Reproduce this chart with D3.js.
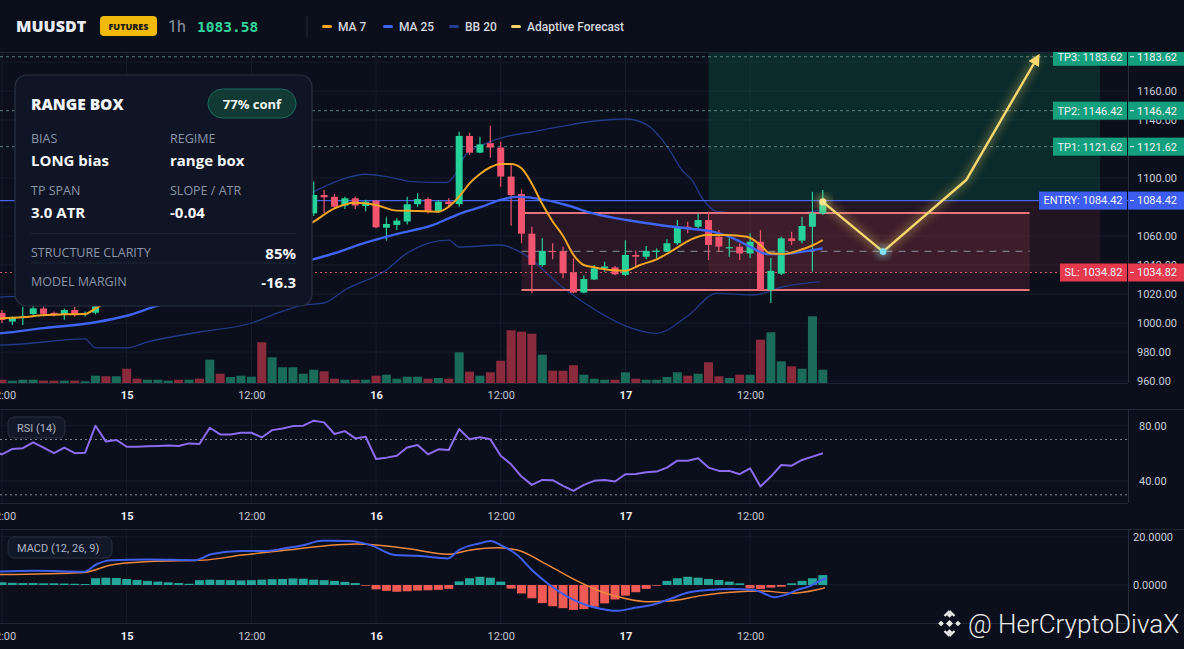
<!DOCTYPE html>
<html>
<head>
<meta charset="utf-8">
<script src="https://cdn.jsdelivr.net/npm/d3@7/dist/d3.min.js"></script>
<style>
html,body{margin:0;padding:0;background:#0a0f1b;overflow:hidden;}
svg{display:block;}
</style>
</head>
<body>
<svg id="chart" width="1184" height="649" font-family="Roboto, 'Noto Sans', sans-serif"></svg>
<script>
// ================= DATA =================
const symbol = "MUUSDT";
const interval = "1h";
const lastPrice = 1083.58;

// hourly candles, index 0 = 14th 12:00
const opens = [1007.0,1001.0,1004.0,1006.2,1010.0,1007.0,1005.6,1009.0,1006.0,1007.1,
1030,1024,1029,1017,1015,1019,1022,1024,1021,1024.5,
1022,1048,1042,1045,1047,1049,1043,1058,1064,1068,
1075.6,1088.3,1087,1081,1086,1080.7,1084.4,1065.7,1067.6,1070,
1081.9,1085.5,1076.8,1083.7,1082,1129,1117.5,1124,1121,1101,
1089,1061.6,1040,1049.7,1049.5,1034.9,1021,1030,1037.7,1038.4,
1033.2,1046.9,1045.7,1049.5,1049.3,1055,1066.4,1066.4,1071,1059.5,
1052,1052.6,1048,1056,1022.8,1034,1058.4,1056.8,1066.4,1075.6];
const highs = [1009,1004.5,1011.2,1011.7,1011.3,1008,1009.9,1011.2,1008,1033,
1033,1031,1031,1020,1021,1024,1026,1025,1026,1026,
1050,1050,1047,1049,1051,1056,1060,1066,1070,1077,
1097.4,1091.7,1089,1087,1087,1085,1084.8,1072.9,1072.2,1087,
1089.4,1086.7,1084.8,1086,1131.9,1131,1128.5,1136,1125,1110,
1092,1066.4,1058.4,1055,1052.6,1044.6,1033,1040,1042.3,1039.3,
1057,1050,1053.1,1051.5,1057.7,1071,1069.9,1075.6,1076.8,1064.1,
1058.4,1055,1061.9,1064,1044.8,1059.5,1063,1073.3,1090.5,1091.7];
const lows = [1000,998.6,998.6,1005.5,1004.4,1004.5,1002.3,1004.4,1004.4,1006,
1021,1022,1014,1013,1014,1017,1020,1019,1020,1020,
1021,1040,1040,1043,1045,1036,1041,1055,1062,1066,
1073.8,1075.9,1079,1078.6,1078.6,1077,1065.3,1056.8,1064.1,1068,
1080.2,1075.6,1075.9,1080.2,1080.2,1115.9,1117,1114,1094,1067,
1055,1020.5,1038.8,1044,1030.8,1020.5,1020.5,1029.7,1035.4,1033,
1032.5,1039,1043.9,1044.6,1049.2,1053.8,1061.9,1065.3,1043.4,1049.2,
1045.7,1043.4,1044.6,1022.8,1013.8,1033.1,1053.8,1055,1035.4,1074.5];
const closes = [1002.1,1003.7,1004.5,1010.1,1006.3,1005.6,1008.9,1005.6,1006.8,1030,
1024,1029,1017,1015,1019,1022,1024,1021,1024.5,1022,
1048,1042,1045,1047,1049,1043,1058,1064,1068,1075.6,
1088.3,1086.7,1080.2,1086,1081,1083.7,1066,1068.3,1070.6,1081.9,
1085.5,1076.8,1083.7,1082,1129,1117.5,1123.2,1121,1101,1088.3,
1061.6,1040,1049.7,1049.2,1034.3,1021,1030.3,1037.7,1039,1033.6,
1046.9,1045.7,1049.7,1049.9,1055,1066.4,1065.3,1071,1053.8,1052.7,
1052.3,1048,1056,1022.8,1036,1058.4,1056.5,1066.9,1075.6,1083.58];
const volumes = [33,23,33,33,23,23,23,23,17,73, 67,67,143,43,33,33,23,33,33,43,
233,93,60,73,63,407,257,157,157,93, 133,117,43,33,33,33,73,83,43,63,
63,43,50,43,307,113,73,107,223,527, 513,493,283,123,123,177,83,43,33,33,
107,43,33,33,60,107,73,93,207,67, 50,83,83,433,507,217,167,143,667,133];

// overlays: [hour index, price]
const ma7Points = [[-1,1002.5],[0,1003.2],[2,1004],[4,1005.5],[6,1006],[8,1006.2],[9,1010],[10,1014],[12,1020],[15,1019],[18,1022],[21,1031],[24,1045],[27,1057],
[30,1069.9],[32,1079.1],[34,1083],[36,1081.4],[38,1077.5],[40,1077.3],[42,1076.8],[43,1080.2],[44,1087.1],[45,1096.3],[46,1102.8],[47,1107.4],[48,1109.7],[49,1109.7],[50,1106.7],
[51,1096],[52,1082],[53,1070],[54,1060],[55,1047],[56,1040],[57,1038.4],[58.5,1036.6],[60,1036.1],[61.4,1040],[63,1043.9],[64.6,1050.3],[66.2,1057.2],[67.8,1060.7],[69.7,1060.7],[71.7,1059.5],
[73,1053.8],[73.9,1048.1],[75.2,1047.6],[76.8,1050.3],[78.1,1053.8],[79,1057.2]];
const ma25Points = [[-1,992.4],[0,993],[4,996.5],[9,1000.5],[12,1005],[15,1012],[18,1017],[22,1026],[26,1036],[30,1044],[32,1048.1],[35,1055.4],[38,1061.4],[41.5,1067.6],[43,1072.2],[44.6,1076.8],
[46.2,1080.2],[47.9,1084.8],[49.7,1087],[52,1085.3],[54.3,1081.4],[56.9,1075.6],[60.1,1071],[63.3,1067.6],[65.9,1065.3],[68.4,1063],[70.4,1058.4],[72.3,1051.5],[73.6,1047.6],[75.2,1047.6],[77.1,1049.2],[79,1051.5]];
const bbUpperPoints = [[-1,1017],[0,1018],[5,1019],[9,1022],[14,1045],[20,1060],[26,1075],[30,1090.6],[33,1099.8],[35,1102.6],[37,1101],[39.5,1097.5],[42.8,1096.9],[43.8,1104.4],[44.6,1115.9],
[46.6,1123.9],[48.5,1128.5],[51.1,1131.9],[53.7,1135.4],[57,1139.3],[60,1140.7],[62,1137],[64,1122],[65.5,1105],[66.4,1098.6],[67.5,1085],[68.8,1077],[72,1075.5],[76,1075.5],[79,1078]];
const bbLowerPoints = [[-1,985.5],[0,984.8],[8,989],[9,982.8],[12,982.8],[14,986.9],[19,993.8],[24,1000],[26,1005.5],[29,1012.4],[31,1013.8],[33,1022.8],[37,1036.6],[39,1048.3],[43,1057.2],[44,1052.4],
[48,1053.8],[49.8,1049.2],[54.3,1022.8],[57.6,1006.9],[60,998],[63,992.9],[65.9,1004.3],[68.8,1020.5],[72.3,1019.3],[75.2,1025],[78.7,1028.5]];

// RSI(14), first value at hour -1
const rsiValues = [62,59.3,63.2,63.7,68,64.2,60.1,64.2,60.1,60.5,80,68.5,69.7,64.8,64.8,65.1,65.4,65.6,65.3,67.2,66.7,
78.5,73.7,73.7,74.9,74.9,71.5,76.8,78,79.7,80,83.6,82.4,74,76.1,70.8,72,55.9,56.9,58.3,64.3,66,59.3,62.9,62.4,
77.6,70.2,71.6,70.2,58.3,52.1,43.2,37.2,40.8,40.6,36.5,32.9,37.2,40.1,40.8,39.6,44.9,45.1,46.3,46.8,49.7,54.7,
54.7,56.4,49.7,47.3,47.3,44.9,49.2,36,43.2,51.6,51.1,55.2,57.6,60.1];
// MACD (12,26,9): [hour, value]
const macdPoints = [[-1,5.4],[3.2,5.9],[7.9,5.5],[9.1,8.6],[10.5,10.3],[14.2,10.6],[18.6,10.3],[20.1,12.7],[23.1,14.1],[25.3,14.1],[27.5,15.4],[29,16.5],[30.8,18.3],[33.4,18.2],[35.6,16.3],
[37.8,12.4],[40,12.1],[42.9,11],[44,14.5],[45.9,17.2],[47,18.2],[48.1,16.3],[49.6,12.4],[51,6.2],[52.5,0.7],[54.4,-4.8],[56.2,-8.3],[57.7,-9.9],[59.2,-10.7],[60.6,-9.7],[62.8,-8],
[64.3,-5.8],[65.8,-3.4],[68,-2.1],[70.2,-1.7],[72.4,-2.1],[73.3,-3.4],[74.3,-5.1],[75.4,-4.1],[76.5,-2.1],[77.6,-0.7],[78.7,1.7],[79.3,2.8]];
const signalPoints = [[-1,4.3],[7.9,5.2],[10.5,8.3],[14.2,9.7],[19.4,10.3],[23.1,12.4],[27.5,14.5],[31.2,16.3],[34.1,17],[36.3,16.5],[39.3,14.9],[42.9,12.7],[45.1,14.5],[47.7,15.4],
[49.6,14.5],[52.5,8.3],[55.5,1.4],[57.7,-2.8],[59.9,-5.5],[62.1,-6.9],[64.3,-6.6],[67.3,-4.4],[70.2,-3],[73.1,-2.5],[76.1,-3.4],[78.3,-2.1],[79.2,-1.1]];
const histValues = [1.1,0.9,0.8,0.8,0.7,0.7,0.6,0.5,0.4,2.8,3.0,2.9,2.5,2.1,1.7,1.4,1.1,0.8,0.5,2.0,
2.2,2.1,2.0,1.9,2.0,2.2,2.4,2.5,2.7,2.6,2.2,2.0,1.7,1.3,0.8,-0.3,-1.8,-2.4,-2.8,-2.6,
-2.3,-2.2,-2.0,-1.6,1.5,2.8,3.4,3.0,1.4,-1.5,-3.5,-5.5,-7.5,-8.8,-9.6,-10.3,-10.0,-9.0,-7.6,-6.0,
-4.4,-3.0,-1.6,-0.3,1.7,2.8,3.4,3.0,2.5,2.1,1.4,0.7,-1.4,-1.7,-1.1,-0.7,0.7,1.7,2.8,4.1];

// trade plan
const levelNames = ["TP3","TP2","TP1","ENTRY","SL"];
const levelPrices = [1183.62,1146.42,1121.62,1084.42,1034.82];
const rangeBox = {start:50, end:98.9, top:1075.9, bottom:1022.8};
const zoneHours = [68, 105.7];
const forecastHours = [79, 84.8, 92.8, 99.7];
const forecastPrices = [1083.58, 1049.2, 1098.6, 1183.62];

// axis ticks (labels hidden behind level tags are not drawn)
const priceTicks = [960,980,1000,1020,1040,1060,1100,1140,1160];
const gridPrices = d3.range(960, 1181, 20);
const timeTicks = [0,12,24,36,48,60,72];
const rsiTicks = [40,80];
const rsiBands = [70,30];
const macdTicks = [0,20];

// info card
const cardTitle = "RANGE BOX";
const cardConf = "77% conf";
const cardFields = [["BIAS","LONG bias"],["REGIME","range box"],["TP SPAN","3.0 ATR"],["SLOPE / ATR","-0.04"]];
const cardRows = [["STRUCTURE CLARITY","85%"],["MODEL MARGIN","-16.3"]];
const legendNames = ["MA 7","MA 25","BB 20","Adaptive Forecast"];
const legendColors = ["#f5a524","#3f64f2","#243c8c","#f5d56b"];

// ================= RENDER =================
const svg = d3.select("#chart");
const defs = svg.append("defs");
const BG = "#0a0f1b";
svg.append("rect").attr("width",1184).attr("height",649).attr("fill",BG);

const H0 = new Date(2024,10,14,12,0,0);
const at = h => new Date(H0.getTime() + h*3600000);
const x = d3.scaleTime().domain([at(0), at(96)]).range([2, 2+96*10.39]);
const xh = h => x(at(h));
const yP = d3.scaleLinear().domain([960,1100]).range([381,178]);
const yV = d3.scaleLinear().domain([0,700]).range([383,313]);
const yR = d3.scaleLinear().domain([40,80]).range([481,425.7]);
const yM = d3.scaleLinear().domain([0,20]).range([585,536.7]);

const PR = 1128;
const main = {top:52,bottom:383}, rsiP = {top:409,bottom:503}, macdP = {top:529,bottom:623};

function clip(id, y0, y1, w){
  defs.append("clipPath").attr("id",id).append("rect").attr("x",0).attr("y",y0).attr("width",w||PR).attr("height",y1-y0);
}
clip("cMain",main.top,main.bottom);
clip("cRsi",rsiP.top,rsiP.bottom);
clip("cMacd",macdP.top,macdP.bottom);
clip("cLab",main.top,main.bottom,1184);

const glow = defs.append("filter").attr("id","glow").attr("x","-20%").attr("y","-20%").attr("width","140%").attr("height","140%");
glow.append("feGaussianBlur").attr("stdDeviation",4);
defs.append("marker").attr("id","arrow").attr("viewBox","0 0 10 10").attr("refX",7).attr("refY",5)
  .attr("markerWidth",5).attr("markerHeight",5).attr("orient","auto")
  .append("path").attr("d","M0,0 L10,5 L0,10 z").attr("fill","#f6d86f");

const GRID = "#151c2a";
function vgrid(g, y0, y1){
  g.selectAll(null).data(timeTicks).join("line")
   .attr("x1",d=>xh(d)).attr("x2",d=>xh(d)).attr("y1",y0).attr("y2",y1)
   .attr("stroke",GRID).attr("stroke-width",1);
}
const gMainGrid = svg.append("g").attr("clip-path","url(#cMain)");
gMainGrid.selectAll(null).data(gridPrices).join("line")
  .attr("x1",0).attr("x2",PR).attr("y1",d=>yP(d)).attr("y2",d=>yP(d)).attr("stroke",GRID);
vgrid(gMainGrid, main.top, main.bottom);

const gRsiGrid = svg.append("g");
gRsiGrid.selectAll(null).data(rsiTicks).join("line")
  .attr("x1",0).attr("x2",PR).attr("y1",d=>yR(d)).attr("y2",d=>yR(d)).attr("stroke",GRID);
vgrid(gRsiGrid, rsiP.top, rsiP.bottom);
gRsiGrid.selectAll(null).data(rsiBands).join("line")
  .attr("x1",0).attr("x2",PR).attr("y1",d=>yR(d)).attr("y2",d=>yR(d))
  .attr("stroke","#7d8594").attr("stroke-dasharray","2,3").attr("stroke-width",1);

const gMacdGrid = svg.append("g");
gMacdGrid.selectAll(null).data(macdTicks).join("line")
  .attr("x1",0).attr("x2",PR).attr("y1",d=>yM(d)).attr("y2",d=>yM(d)).attr("stroke",GRID);
vgrid(gMacdGrid, macdP.top, macdP.bottom);

const border = "#1e2535";
[[main.top,PR],[main.bottom,PR],[rsiP.top,1184],[rsiP.bottom,PR],[macdP.top,1184],[macdP.bottom,PR]].forEach(([y,w])=>{
  svg.append("line").attr("x1",0).attr("x2",w).attr("y1",y+0.5).attr("y2",y+0.5).attr("stroke",border);
});
[[main.top,main.bottom],[rsiP.top,rsiP.bottom],[macdP.top,macdP.bottom]].forEach(([a,b])=>{
  svg.append("line").attr("x1",PR+0.5).attr("x2",PR+0.5).attr("y1",a).attr("y2",b).attr("stroke","#252c3b");
});

// ---- main panel ----
const gM = svg.append("g").attr("clip-path","url(#cMain)");
gM.append("rect").attr("x",xh(zoneHours[0])).attr("width",xh(zoneHours[1])-xh(zoneHours[0]))
  .attr("y",yP(levelPrices[0]+2.5)).attr("height",yP(levelPrices[3])-yP(levelPrices[0]+2.5))
  .attr("fill","rgba(16,185,129,0.16)");
gM.append("rect").attr("x",xh(zoneHours[0])).attr("width",xh(zoneHours[1])-xh(zoneHours[0]))
  .attr("y",yP(levelPrices[3])).attr("height",yP(levelPrices[4])-yP(levelPrices[3]))
  .attr("fill","rgba(235,70,95,0.11)");
gM.append("rect").attr("x",xh(rangeBox.start)).attr("width",xh(rangeBox.end)-xh(rangeBox.start))
  .attr("y",yP(rangeBox.top)).attr("height",yP(rangeBox.bottom)-yP(rangeBox.top))
  .attr("fill","rgba(235,80,100,0.14)");

const candles = opens.map((o,i)=>({i,o,h:highs[i],l:lows[i],c:closes[i],v:volumes[i],up:closes[i]>=o}));
gM.selectAll(null).data(candles).join("rect")
  .attr("x",d=>xh(d.i)-4.5).attr("width",9)
  .attr("y",d=>yV(d.v)).attr("height",d=>yV(0)-yV(d.v))
  .attr("fill",d=>d.up?"#1b6b5b":"#8a2b3d");

const lineP = d3.line().x(d=>xh(d[0])).y(d=>yP(d[1])).curve(d3.curveMonotoneX);
[bbUpperPoints,bbLowerPoints].forEach(pts=>{
  gM.append("path").attr("d",lineP(pts)).attr("fill","none").attr("stroke","#233a86").attr("stroke-width",1.3);
});

levelPrices.forEach((p,k)=>{
  const name = levelNames[k];
  const ln = gM.append("line").attr("x1",0).attr("x2",PR).attr("y1",yP(p)).attr("y2",yP(p));
  if(name==="ENTRY") ln.attr("stroke","#4762f2").attr("stroke-width",1.2);
  else if(name==="SL") ln.attr("stroke","#e0566a").attr("stroke-width",1).attr("stroke-dasharray","2,3");
  else ln.attr("stroke","#6f9d93").attr("stroke-width",1).attr("stroke-dasharray","3,3").attr("opacity",0.8);
});
[rangeBox.top,rangeBox.bottom].forEach(p=>{
  gM.append("line").attr("x1",xh(rangeBox.start)).attr("x2",xh(rangeBox.end)).attr("y1",yP(p)).attr("y2",yP(p))
    .attr("stroke","#e7737b").attr("stroke-width",2);
});
gM.append("line").attr("x1",xh(rangeBox.start)).attr("x2",xh(rangeBox.end))
  .attr("y1",yP((rangeBox.top+rangeBox.bottom)/2)).attr("y2",yP((rangeBox.top+rangeBox.bottom)/2))
  .attr("stroke","#8a8f9b").attr("stroke-width",1.2).attr("stroke-dasharray","7,6").attr("opacity",0.8);

const UP="#26d19a", DN="#f2546f";
gM.selectAll(null).data(candles).join("line")
  .attr("x1",d=>xh(d.i)).attr("x2",d=>xh(d.i)).attr("y1",d=>yP(d.h)).attr("y2",d=>yP(d.l))
  .attr("stroke",d=>d.up?UP:DN).attr("stroke-width",1.2);
gM.selectAll(null).data(candles).join("rect")
  .attr("x",d=>xh(d.i)-3.5).attr("width",7)
  .attr("y",d=>yP(Math.max(d.o,d.c))).attr("height",d=>Math.max(1.2,Math.abs(yP(d.o)-yP(d.c))))
  .attr("fill",d=>d.up?UP:DN);

gM.append("path").attr("d",lineP(ma25Points)).attr("fill","none").attr("stroke","#3f64f2").attr("stroke-width",2.4);
gM.append("path").attr("d",lineP(ma7Points)).attr("fill","none").attr("stroke","#f5a524").attr("stroke-width",2);

const fpts = forecastHours.map((h,k)=>[h,forecastPrices[k]]);
const lineF = d3.line().x(d=>xh(d[0])).y(d=>yP(d[1]));
gM.append("path").attr("d",lineF(fpts)).attr("fill","none").attr("stroke","#f5d56b").attr("stroke-width",7)
  .attr("opacity",0.35).attr("filter","url(#glow)");
gM.append("path").attr("d",lineF(fpts)).attr("fill","none").attr("stroke","#f6d86f").attr("stroke-width",2.4)
  .attr("stroke-linejoin","round").attr("marker-end","url(#arrow)");
gM.append("circle").attr("cx",xh(fpts[0][0])).attr("cy",yP(fpts[0][1])).attr("r",7).attr("fill","#f5d56b").attr("opacity",0.4).attr("filter","url(#glow)");
gM.append("circle").attr("cx",xh(fpts[0][0])).attr("cy",yP(fpts[0][1])).attr("r",3.5).attr("fill","#fbe593");
gM.append("circle").attr("cx",xh(fpts[1][0])).attr("cy",yP(fpts[1][1])).attr("r",6).attr("fill","#6fdcf5").attr("opacity",0.45).attr("filter","url(#glow)");
gM.append("circle").attr("cx",xh(fpts[1][0])).attr("cy",yP(fpts[1][1])).attr("r",3.3).attr("fill","#7fe3f7");

// ---- price axis ----
const axP = svg.append("g").attr("transform",`translate(${PR},0)`)
  .call(d3.axisRight(yP).tickValues(priceTicks).tickFormat(d3.format(".2f")).tickSize(0).tickPadding(9));
axP.select(".domain").remove();
axP.selectAll("text").attr("fill","#c9ced8").attr("font-size",11).attr("font-family","Roboto, sans-serif");

const gL = svg.append("g").attr("clip-path","url(#cLab)");
const levelColors = {TP3:"#14a07f",TP2:"#14a07f",TP1:"#14a07f",ENTRY:"#3d5cf0",SL:"#e53a4e"};
const levelLeft = {TP3:1053,TP2:1053,TP1:1053,ENTRY:1039,SL:1060};
levelPrices.forEach((p,k)=>{
  const n = levelNames[k], y = yP(p), col = levelColors[n], lx = levelLeft[n];
  gL.append("rect").attr("x",lx).attr("y",y-9).attr("width",PR-1-lx).attr("height",18).attr("fill",col);
  gL.append("rect").attr("x",PR).attr("y",y-9).attr("width",1184-PR).attr("height",18).attr("fill",col);
  gL.append("text").attr("x",(lx+PR-1)/2).attr("y",y).attr("dy","0.35em").attr("text-anchor","middle")
    .attr("fill","#eef3f6").attr("font-size",11).text(`${n}: ${p.toFixed(2)}`);
  gL.append("line").attr("x1",PR+2).attr("x2",PR+6).attr("y1",y).attr("y2",y).attr("stroke","#eef3f6");
  gL.append("text").attr("x",PR+9).attr("y",y).attr("dy","0.35em").attr("fill","#eef3f6").attr("font-size",11).text(p.toFixed(2));
});

// ---- time axes ----
function timeAxis(yPos){
  const ax = svg.append("g").attr("transform",`translate(0,${yPos})`)
    .call(d3.axisBottom(x).tickValues(timeTicks.map(at)).tickSize(0).tickPadding(0)
      .tickFormat(d=>d.getHours()===0 ? String(d.getDate()) : "12:00"));
  ax.select(".domain").remove();
  ax.selectAll("text").attr("font-size",11).attr("font-family","Roboto, sans-serif")
    .attr("fill",d=>d.getHours()===0?"#eef0f4":"#c4c9d2")
    .attr("font-weight",d=>d.getHours()===0?700:400);
}
timeAxis(391);
timeAxis(512);
timeAxis(632);

// ---- RSI panel ----
const gR = svg.append("g").attr("clip-path","url(#cRsi)");
const lineR = d3.line().x((d,i)=>xh(i-1)).y(d=>yR(d));
gR.append("path").attr("d",lineR(rsiValues)).attr("fill","none").attr("stroke","#8b6cf0").attr("stroke-width",2).attr("stroke-linejoin","round");
const axR = svg.append("g").attr("transform",`translate(${PR},0)`)
  .call(d3.axisRight(yR).tickValues(rsiTicks).tickFormat(d3.format(".2f")).tickSize(0).tickPadding(11));
axR.select(".domain").remove();
axR.selectAll("text").attr("fill","#c9ced8").attr("font-size",11).attr("font-family","Roboto, sans-serif");

// ---- MACD panel ----
const gMc = svg.append("g").attr("clip-path","url(#cMacd)");
gMc.selectAll(null).data(histValues).join("rect")
  .attr("x",(d,i)=>xh(i)-4.5).attr("width",9)
  .attr("y",d=>yM(Math.max(0,d))).attr("height",d=>Math.abs(yM(d)-yM(0)))
  .attr("fill",d=>d>=0?"#26a69a":"#ef5a55");
const lineM = d3.line().x(d=>xh(d[0])).y(d=>yM(d[1])).curve(d3.curveMonotoneX);
gMc.append("path").attr("d",lineM(signalPoints)).attr("fill","none").attr("stroke","#f0883e").attr("stroke-width",1.5);
gMc.append("path").attr("d",lineM(macdPoints)).attr("fill","none").attr("stroke","#3f5ff0").attr("stroke-width",2);
const axM = svg.append("g").attr("transform",`translate(${PR},0)`)
  .call(d3.axisRight(yM).tickValues(macdTicks).tickFormat(d3.format(".4f")).tickSize(0).tickPadding(5));
axM.select(".domain").remove();
axM.selectAll("text").attr("fill","#c9ced8").attr("font-size",11).attr("font-family","Roboto, sans-serif");

function tag(xp, yp, w, label){
  svg.append("rect").attr("x",xp).attr("y",yp).attr("width",w).attr("height",21).attr("rx",6)
    .attr("fill","#111827").attr("stroke","#283041");
  svg.append("text").attr("x",xp+9).attr("y",yp+14.5).attr("fill","#aeb5c2").attr("font-size",11).text(label);
}
tag(8,417,57,"RSI (14)");
tag(8,537,104,"MACD (12, 26, 9)");

// ---- info card ----
const card = svg.append("g");
card.append("rect").attr("x",15).attr("y",75).attr("width",297).attr("height",231).attr("rx",12)
  .attr("fill","#0f1524").attr("stroke","#283142").attr("stroke-width",1.2);
const CF = "'Open Sans','Noto Sans',sans-serif";
card.append("text").attr("x",31).attr("y",110).attr("fill","#f2f4f8").attr("font-size",15.5).attr("font-weight",800)
  .attr("font-family",CF).text(cardTitle);
card.append("rect").attr("x",208).attr("y",89).attr("width",88).attr("height",29).attr("rx",14.5)
  .attr("fill","#113a34").attr("stroke","#1f6a5b");
card.append("text").attr("x",252).attr("y",108.5).attr("text-anchor","middle").attr("fill","#f2f6f5")
  .attr("font-size",13).attr("font-weight",700).attr("font-family",CF).text(cardConf);
cardFields.forEach((f,k)=>{
  const cx = k%2===0 ? 31 : 170, cy = k<2 ? 143 : 195;
  card.append("text").attr("x",cx).attr("y",cy).attr("fill","#8b95a8").attr("font-size",12.5).attr("font-family",CF).text(f[0]);
  card.append("text").attr("x",cx).attr("y",cy+23).attr("fill","#f4f6f9").attr("font-size",15).attr("font-weight",700)
    .attr("font-family",CF).text(f[1]);
});
[233.5,263].forEach(y=>card.append("line").attr("x1",31).attr("x2",296).attr("y1",y).attr("y2",y).attr("stroke","#1f2736"));
cardRows.forEach((r,k)=>{
  const cy = 257 + k*29;
  card.append("text").attr("x",31).attr("y",cy).attr("fill","#8b95a8").attr("font-size",12.5).attr("font-family",CF).text(r[0]);
  card.append("text").attr("x",296).attr("y",cy+2).attr("text-anchor","end").attr("fill","#f4f6f9").attr("font-size",15)
    .attr("font-weight",700).attr("font-family",CF).text(r[1]);
});

// ---- header ----
const hd = svg.append("g");
hd.append("text").attr("x",16).attr("y",32).attr("fill","#e9edf3").attr("font-size",16).attr("font-weight",800)
  .attr("font-family",CF).text(symbol);
hd.append("rect").attr("x",100).attr("y",16).attr("width",57).attr("height",20).attr("rx",4).attr("fill","#f0b90b");
hd.append("text").attr("x",128.5).attr("y",30).attr("text-anchor","middle").attr("fill","#1c1a10").attr("font-size",9)
  .attr("font-weight",800).attr("font-family",CF).text("FUTURES");
hd.append("text").attr("x",168).attr("y",32).attr("fill","#8a93a3").attr("font-size",16).text(interval);
hd.append("text").attr("x",197).attr("y",32).attr("fill","#31d59d").attr("font-size",14.5).attr("font-weight",700)
  .attr("font-family","'DejaVu Sans Mono',monospace").text(lastPrice.toFixed(2));
hd.append("line").attr("x1",307).attr("x2",307).attr("y1",16).attr("y2",37).attr("stroke","#262d3b");
const legX = [322,383,449,511];
legendNames.forEach((n,k)=>{
  hd.append("rect").attr("x",legX[k]).attr("y",25).attr("width",10).attr("height",3).attr("rx",1.5).attr("fill",legendColors[k]);
  hd.append("text").attr("x",legX[k]+16).attr("y",31).attr("fill","#d3d7df").attr("font-size",12).attr("font-weight",500).text(n);
});

// ---- watermark ----
const wm = svg.append("g").attr("transform","translate(949.5,623.5)").attr("fill","#e8e8e8");
[[0,0,5],[0,-8.5,4],[0,8.5,4],[-8.5,0,4],[8.5,0,4]].forEach(([dx,dy,s])=>{
  wm.append("rect").attr("x",dx-s/2).attr("y",dy-s/2).attr("width",s).attr("height",s)
    .attr("transform",`rotate(45 ${dx} ${dy})`);
});
wm.append("path").attr("d","M0,-12.5 L-5,-7.5 M0,-12.5 L5,-7.5 M0,12.5 L-5,7.5 M0,12.5 L5,7.5").attr("stroke","#e8e8e8").attr("stroke-width",2.2).attr("fill","none");
svg.append("text").attr("x",968).attr("y",633).attr("fill","#ececec").attr("font-size",26).attr("font-weight",300)
  .text("@ HerCryptoDivaX");
</script>
</body>
</html>
